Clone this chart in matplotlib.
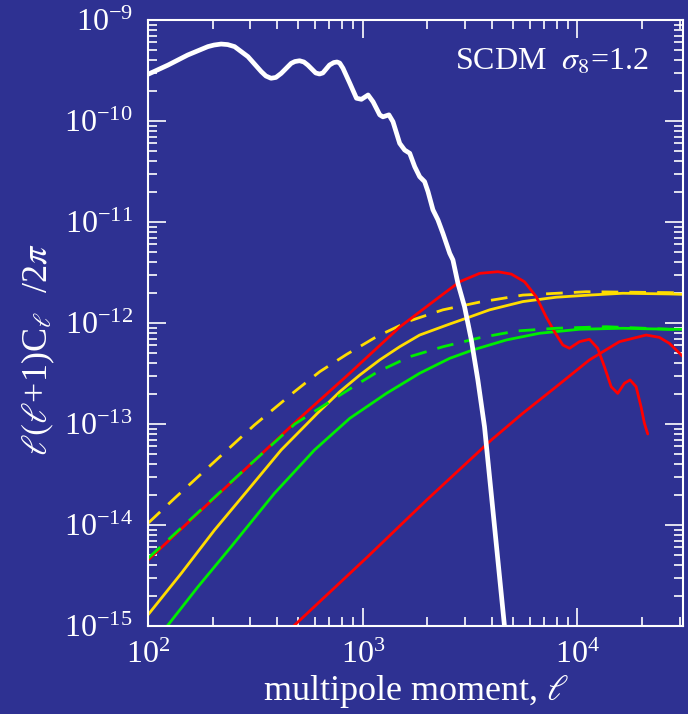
import matplotlib
matplotlib.use("Agg")
import matplotlib.pyplot as plt
from matplotlib.ticker import LogLocator, LogFormatterMathtext, NullFormatter

plt.rcParams['font.family'] = ['Liberation Serif', 'DejaVu Serif']
plt.rcParams['mathtext.fontset'] = 'stix'

BG = '#2e3192'

# White: primary CMB spectrum
white_l = [100, 124, 153, 190, 203, 219, 235, 253, 292, 337, 354, 374, 394, 417, 464, 483,
           508, 532, 555, 604, 629, 652, 700, 733, 759, 781, 809, 871, 935, 986, 1059, 1117,
           1200, 1242, 1324, 1383, 1486, 1567, 1655, 1746, 1841, 1941, 2013, 2123, 2239,
           2362, 2541, 2630, 2775, 2979, 3204, 3436, 3690, 3981, 4571, 4720]
white_c = [2.90e-10, 3.58e-10, 4.50e-10, 5.45e-10, 5.65e-10, 5.78e-10, 5.71e-10, 5.45e-10,
           4.34e-10, 3.08e-10, 2.79e-10, 2.65e-10, 2.70e-10, 2.96e-10, 3.72e-10, 3.88e-10,
           3.95e-10, 3.84e-10, 3.58e-10, 2.99e-10, 2.92e-10, 2.99e-10, 3.58e-10, 3.79e-10,
           3.84e-10, 3.75e-10, 3.33e-10, 2.36e-10, 1.68e-10, 1.64e-10, 1.81e-10, 1.55e-10,
           1.15e-10, 1.10e-10, 1.15e-10, 9.84e-11, 6.01e-11, 5.16e-11, 4.79e-11, 3.53e-11,
           2.81e-11, 2.51e-11, 2.00e-11, 1.32e-11, 1.05e-11, 7.73e-12, 4.90e-12, 4.21e-12,
           2.47e-12, 1.45e-12, 6.79e-13, 2.73e-13, 9.40e-14, 1.89e-14, 1.0e-15, 4.6e-16]

# Red (peaked, oscillating)
red1_l = [100, 171, 292, 499, 851, 1486, 2280, 2825, 3500, 4257, 4917, 5667, 6427, 7145,
          7813, 8547, 9183, 10210, 11370, 12420, 13350, 14350, 15390, 16540, 17580, 18750,
          19770, 20490, 21240]
red1_c = [4.50e-15, 1.31e-14, 3.78e-14, 1.10e-13, 3.05e-13, 9.12e-13, 1.82e-12, 2.56e-12,
          3.10e-12, 3.22e-12, 3.05e-12, 2.56e-12, 1.82e-12, 1.15e-12, 8.20e-13, 6.05e-13,
          5.62e-13, 6.53e-13, 6.90e-13, 5.62e-13, 3.69e-13, 2.34e-13, 2.01e-13, 2.53e-13,
          2.73e-13, 2.34e-13, 1.48e-13, 1.02e-13, 7.96e-14]

# Red (lower)
red2_l = [472, 1054, 1986, 3971, 5570, 7960, 11370, 15670, 20890, 24050, 26790, 31470]
red2_c = [9.8e-16, 4.85e-15, 1.77e-14, 6.95e-14, 1.28e-13, 2.34e-13, 4.31e-13, 6.53e-13,
          7.60e-13, 7.21e-13, 6.29e-13, 4.50e-13]

# Yellow solid
ys_l = [100, 143, 204, 292, 417, 611, 782, 968, 1200, 1486, 1841, 2541, 2979, 3899, 5570,
        7960, 11370, 16250, 26790, 31470]
ys_c = [1.29e-15, 3.33e-15, 8.91e-15, 2.22e-14, 5.53e-14, 1.26e-13, 2.09e-13, 3.05e-13,
        4.31e-13, 5.82e-13, 7.60e-13, 9.77e-13, 1.10e-12, 1.35e-12, 1.63e-12, 1.80e-12,
        1.89e-12, 1.97e-12, 1.94e-12, 1.92e-12]

# Yellow dashed
yd_l = [100, 133, 204, 313, 481, 631, 840, 1158, 1655, 2362, 3500, 5570, 10970, 26790, 31470]
yd_c = [1.04e-14, 1.84e-14, 4.24e-14, 9.77e-14, 2.09e-13, 3.30e-13, 4.88e-13, 7.31e-13,
        1.05e-12, 1.35e-12, 1.61e-12, 1.89e-12, 2.04e-12, 2.00e-12, 1.98e-12]

# Green dashed
gd_l = [100, 171, 292, 483, 663, 915, 1178, 1655, 2362, 3500, 5188, 7960, 13590, 26790,
        31470]
gd_c = [4.68e-15, 1.33e-14, 3.80e-14, 1.0e-13, 1.54e-13, 2.38e-13, 3.30e-13, 4.64e-13,
        5.82e-13, 7.14e-13, 8.33e-13, 8.87e-13, 9.19e-13, 8.67e-13, 8.65e-13]

# Green solid
gs_l = [122, 171, 244, 388, 596, 871, 1289, 1841, 2541, 3258, 4660, 6653, 10210, 16250,
        26790, 31470]
gs_c = [9.8e-16, 2.45e-15, 6.10e-15, 2.06e-14, 5.53e-14, 1.14e-13, 2.01e-13, 3.18e-13,
        4.47e-13, 5.41e-13, 6.79e-13, 7.91e-13, 8.67e-13, 8.87e-13, 8.67e-13, 8.65e-13]

fig = plt.figure(figsize=(6.88, 7.14), dpi=100, facecolor=BG)
ax = fig.add_axes([148/688, 88/714, 535/688, 606/714], facecolor=BG)

RED, YEL, GRN = '#ff0000', '#ffdd00', '#00ee00'
lw = 2.0
kw = dict(solid_joinstyle='round', solid_capstyle='round')
ax.plot(ys_l, ys_c, color=YEL, lw=lw, **kw)
ax.plot(yd_l, yd_c, color=YEL, lw=lw, dashes=(6, 4))
ax.plot(gs_l, gs_c, color=GRN, lw=lw, **kw)
ax.plot(red1_l, red1_c, color=RED, lw=lw, **kw)
ax.plot(gd_l, gd_c, color=GRN, lw=lw, dashes=(6, 4))
ax.plot(red2_l, red2_c, color=RED, lw=lw, **kw)
ax.plot(white_l, white_c, color='white', lw=3.4, **kw)

ax.set_xscale('log')
ax.set_yscale('log')
ax.set_xlim(100, 3.1e4)
ax.set_ylim(1e-15, 1e-9)

for s in ax.spines.values():
    s.set_color('white')
    s.set_linewidth(1.5)

ax.xaxis.set_major_locator(LogLocator(base=10, numticks=10))
ax.yaxis.set_major_locator(LogLocator(base=10, numticks=10))
ax.xaxis.set_minor_locator(LogLocator(base=10, subs=range(2, 10), numticks=20))
ax.yaxis.set_minor_locator(LogLocator(base=10, subs=range(2, 10), numticks=20))
ax.xaxis.set_major_formatter(LogFormatterMathtext())
ax.yaxis.set_major_formatter(LogFormatterMathtext())
ax.xaxis.set_minor_formatter(NullFormatter())
ax.yaxis.set_minor_formatter(NullFormatter())

ax.tick_params(which='both', direction='in', top=True, right=True, colors='white',
               labelcolor='white', width=1.2, labelsize=23)
ax.tick_params(which='major', length=13)
ax.tick_params(which='minor', length=6.5)
ax.tick_params(axis='x', which='major', pad=11)
ax.tick_params(axis='y', which='major', pad=11)

ax.text(0.935, 0.931, r'SCDM  $\sigma_8$=1.2', transform=ax.transAxes, ha='right',
        va='center', color='white', fontsize=23)

fig.text(416/688, 1 - 692/714, r'multipole moment, $\ell$', ha='center', va='center',
         color='white', fontsize=26)
fig.text(38/688, 1 - 350/714, r'$\ell(\ell$+1)C$_\ell$  /2$\pi$', ha='center', va='center',
         rotation=90, color='white', fontsize=26)

fig.savefig('out.png', dpi=100, facecolor=BG)
